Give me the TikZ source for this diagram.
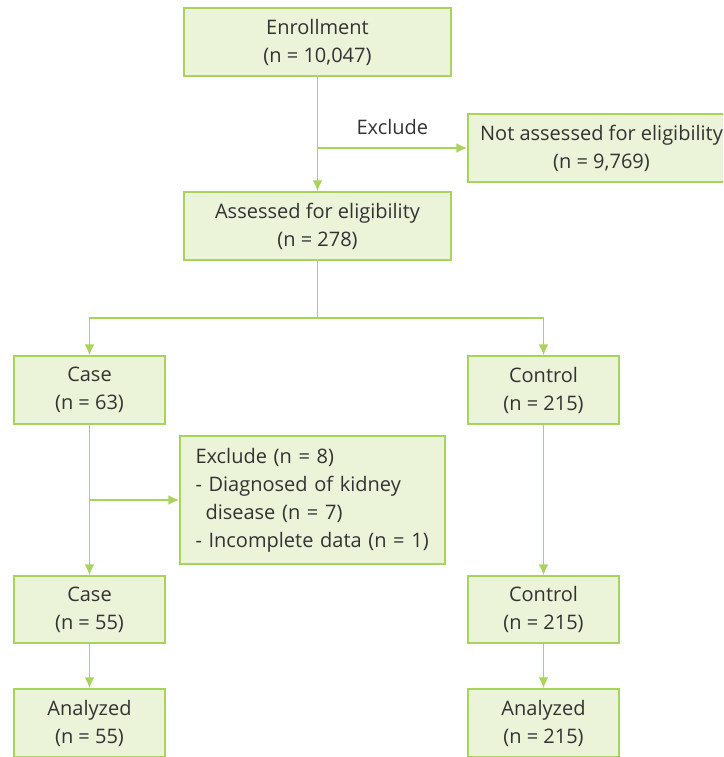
\documentclass[tikz,border=0pt]{standalone}
\usepackage{fontspec}
\setmainfont{Open Sans}
\usepackage{xcolor}
\usetikzlibrary{arrows.meta}

\definecolor{boxline}{HTML}{A8D45C}
\definecolor{boxfill}{HTML}{EBF3D8}
\definecolor{boxtext}{HTML}{333333}

\tikzset{
    flowbox/.style={draw=boxline, fill=boxfill, line width=1.5pt, inner sep=0pt,
        text=boxtext, align=center, font=\fontsize{20}{28}\selectfont},
    widebox/.style={flowbox, minimum width=267pt, minimum height=68pt},
    smallbox/.style={flowbox, minimum width=151pt, minimum height=68pt},
    flowline/.style={draw=boxline, line width=1.8pt},
    flowarrow/.style={flowline, -{Latex[length=11pt,width=10pt]}}
}

\begin{document}
\begin{tikzpicture}[x=1pt, y=-1pt]
        \useasboundingbox (0,0) rectangle (723,757);
        \clip (0,0) rectangle (723,757);
        % boxes
        \node[widebox] (enroll) at (317.5,42) {Enrollment\\(n = 10,047)};
        \node[widebox] (notassess) at (601.5,148) {Not assessed for eligibility\\(n = 9,769)};
        \node[widebox] (assess) at (317.5,226) {Assessed for eligibility\\(n = 278)};
        \node[smallbox] (caseA) at (89.5,390) {Case\\(n = 63)};
        \node[smallbox] (ctrlA) at (543.5,390) {Control\\(n = 215)};
        \node[flowbox, minimum width=265pt, minimum height=128pt, align=left,
              text width=234pt] (exclude) at (312.5,500)
              {Exclude (n = 8)\\- Diagnosed of kidney\\\hspace*{10pt}disease (n = 7)\\- Incomplete data (n = 1)};
        \node[smallbox, minimum height=67pt] (caseB) at (89.5,609.5) {Case\\(n = 55)};
        \node[smallbox, minimum height=67pt] (ctrlB) at (543.5,609.5) {Control\\(n = 215)};
        \node[smallbox] (anA) at (89.5,723) {Analyzed\\(n = 55)};
        \node[smallbox] (anB) at (543.5,723) {Analyzed\\(n = 215)};
        % connectors
        \coordinate (forkA) at (enroll.south |- notassess.west);
        \coordinate (forkB) at (317.5,318);
        \coordinate (forkC) at (caseA.south |- exclude.west);
        \draw[flowarrow] (enroll) -- (assess);
        \draw[flowarrow] (forkA) -- (notassess.west)
            node[midway, above=9pt, text=boxtext, font=\fontsize{20}{28}\selectfont] (exlabel) {Exclude};
        \draw[flowline] (assess) -- (forkB);
        \draw[flowarrow] (forkB) -| (caseA.north);
        \draw[flowarrow] (forkB) -| (ctrlA.north);
        \draw[flowarrow] (caseA) -- (caseB);
        \draw[flowarrow] (forkC) -- (exclude.west);
        \draw[flowarrow] (ctrlA) -- (ctrlB);
        \draw[flowarrow] (caseB) -- (anA);
        \draw[flowarrow] (ctrlB) -- (anB);
\end{tikzpicture}
\end{document}
